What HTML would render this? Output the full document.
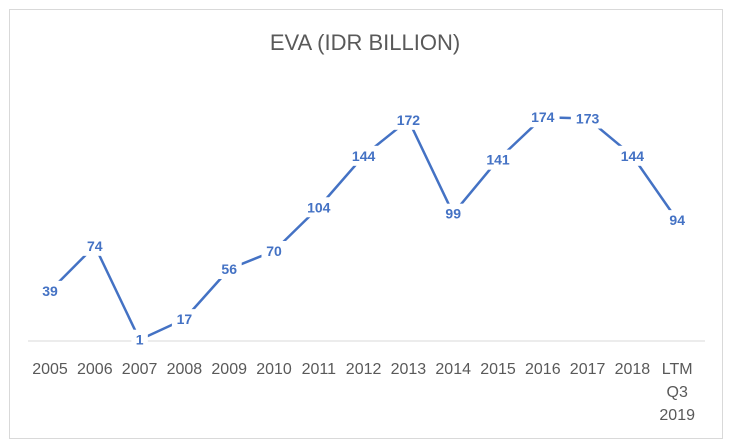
<!DOCTYPE html>
<html><head><meta charset="utf-8"><style>
body{margin:0;background:#fff}
svg{display:block;font-family:"Liberation Sans",Calibri,sans-serif}
</style></head><body>
<svg width="730" height="445" viewBox="0 0 730 445">
<rect x="9.5" y="9.5" width="713" height="429" fill="#fff" stroke="#d9d9d9"/>
<text x="365" y="50" text-anchor="middle" font-size="22" fill="#595959">EVA (IDR BILLION)</text>
<line x1="28" y1="341" x2="705" y2="341" stroke="#d9d9d9" stroke-width="1"/>
<g id="plot"></g>
</svg>
<script>
const categories=["2005","2006","2007","2008","2009","2010","2011","2012","2013","2014","2015","2016","2017","2018","LTM Q3 2019"];
const values=[39,74,1,17,56,70,104,144,172,99,141,174,173,144,94];
const ns="http://www.w3.org/2000/svg";
const g=document.getElementById("plot");
function xPos(i){return 50+i*44.8;}
function yPos(v){return 341-v*1.286;}
function mk(t,a){const e=document.createElementNS(ns,t);for(const k in a)e.setAttribute(k,a[k]);return e;}
const pts=values.map((v,i)=>xPos(i)+","+yPos(v)).join(" ");
const line=mk("polyline",{points:pts,fill:"none",stroke:"#4472C4","stroke-width":"2.5","stroke-linejoin":"round"});


g.appendChild(line);
values.forEach((v,i)=>{
  const s=String(v);const w=s.length*8.5+8;
  const r=mk("rect",{x:xPos(i)-w/2,y:yPos(v)-10,width:w,height:20,fill:"#fff"});
  
  
  g.appendChild(r);
  const t=mk("text",{x:xPos(i),y:yPos(v)+5,"text-anchor":"middle","font-size":"14","font-weight":"bold",fill:"#4472C4"});
  t.textContent=s;
  
  
  g.appendChild(t);
});
categories.forEach((c,i)=>{
  const parts=c.startsWith("LTM")?["LTM","Q3","2019"]:[c];
  parts.forEach((p,j)=>{
    const t=mk("text",{x:xPos(i),y:374+j*23,"text-anchor":"middle","font-size":"16",fill:"#595959"});
    t.textContent=p;
    
    
    g.appendChild(t);
  });
});
</script>
</body></html>
